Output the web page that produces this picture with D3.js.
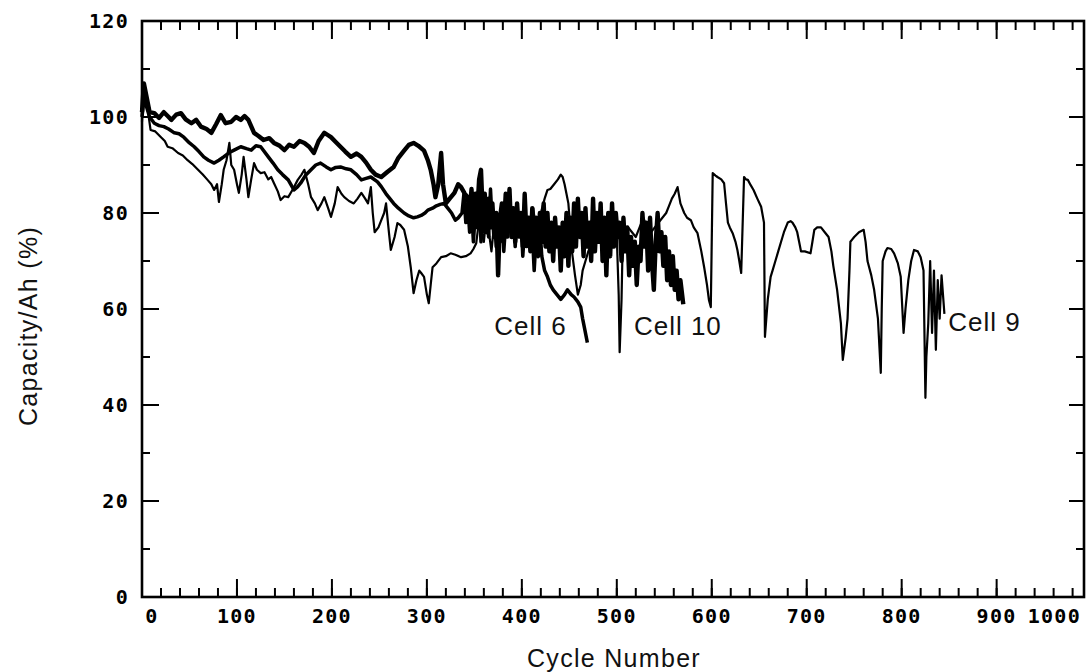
<!DOCTYPE html>
<html>
<head>
<meta charset="utf-8">
<script src="https://cdn.jsdelivr.net/npm/d3@7"></script>
<style>
  html, body { margin: 0; padding: 0; background: #fff; }
  svg { display: block; }
  .lbl { font-family: "DejaVu Sans Mono", monospace; font-weight: bold; font-size: 20px; fill: #000; letter-spacing: 1.3px; }
  .title { font-family: "Liberation Sans", Arial, sans-serif; font-size: 25px; fill: #111; letter-spacing: 1.3px; }
  .cell { font-family: "Liberation Sans", Arial, sans-serif; font-size: 26px; fill: #111; letter-spacing: 1px; }
</style>
</head>
<body>
<svg id="chart" width="1089" height="672"></svg>
<script>
// ---- data (cycle number, capacity %) ----
const cell10 = [[0,101],[2,107],[5,104],[8,101],[13,100.8],[18,99.8],[23,101],[27,100.2],[31,99.4],[36,100.5],[41,100.8],[46,99.5],[52,98.7],[57,99.4],[62,98],[68,97.5],[73,96.7],[78,98.5],[83,100.4],[88,98.7],[94,99],[99,100],[104,99.4],[108,100.2],[112,99.4],[118,96.7],[123,96],[128,95.2],[134,95.6],[139,94.6],[145,94],[150,93.1],[155,94.2],[160,93.8],[166,95],[171,94.6],[176,93.8],[181,92.5],[186,95],[192,96.7],[196,96.2],[199,95.8],[204,94.8],[209,93.8],[214,92.8],[220,91.7],[226,92.4],[231,91.7],[236,90.5],[241,89],[246,88],[252,87.5],[258,88.5],[265,89.6],[270,91.5],[276,93],[281,94.2],[286,94.6],[291,94],[297,93],[301,91],[304,89],[307,86],[309,83.3],[312,86],[315,92.5],[317,86],[320,82],[324,83],[329,84.2],[333,86],[336,85.4],[340,84],[343,83.3],[345,80],[347,85],[349,78],[351,84],[353,80],[355,87],[357,89],[359,79],[361,84],[363,76],[365,83],[367,77],[369,82],[371,75],[373,80],[375,67],[377,79],[379,82],[381,76],[383,84],[385,77],[387,85],[389,75],[391,81],[393,74],[395,82],[397,76],[399,80],[401,73],[403,84],[405,75],[407,79],[409,72],[411,81],[413,74],[415,79],[417,71],[419,80],[421,74],[423,82],[425,73],[427,80],[429,72],[431,78],[433,70],[435,79],[437,73],[439,77],[441,68],[443,78],[445,71],[447,80],[449,69],[451,79],[453,72],[455,82],[457,73],[459,83],[461,75],[463,80],[465,71],[467,81],[469,73],[471,78],[473,70],[475,83],[477,72],[479,80],[481,74],[483,82],[485,70],[487,79],[489,67],[491,80],[493,71],[495,82],[497,73],[499,80],[501,75],[503,78],[505,70],[507,79],[509,72],[511,77],[513,67],[515,75],[517,69],[519,74],[521,65],[523,73],[525,70],[527,80],[529,73],[531,78],[533,68],[535,79],[537,70],[539,64],[541,74],[543,80],[545,72],[547,76],[549,69],[551,75],[553,66],[555,72],[557,65],[559,71],[561,64],[563,68],[565,62],[567,66],[570,61]];

const cell6 = [[0,100],[2,104],[5,102],[8,100],[13,98.7],[18,98.2],[23,98],[28,97.5],[34,96.7],[39,96.5],[44,95.8],[50,94.6],[55,93.8],[60,92.8],[65,91.7],[70,91],[76,90.4],[81,91],[86,91.7],[92,92.6],[97,93.1],[104,93.8],[110,93.4],[115,93.1],[120,94],[125,93.8],[133,91.7],[138,90.4],[143,89],[148,88],[154,86.9],[160,84.8],[164,85.5],[167,86.2],[172,87.8],[178,89],[183,90],[188,90.4],[194,89.6],[199,89],[204,89.5],[209,89.6],[215,89.2],[220,89],[226,88],[231,86.9],[236,87.2],[241,87.5],[248,86.5],[252,85.5],[257,84],[261,83],[265,82],[270,81],[276,80],[281,79.4],[286,79],[290,79.2],[294,79.5],[298,80],[301,80.6],[306,81],[310,81.5],[314,81.8],[318,82],[322,81],[326,80],[330,78.5],[333,79],[337,80],[339,84],[341,78],[343,82],[345,76],[347,81],[349,74],[351,80],[353,77],[355,83],[357,74],[359,80],[361,76],[363,82],[365,75],[367,85],[369,77],[371,80],[373,73],[375,78],[377,74],[379,81],[381,72],[383,78],[385,75],[387,82],[389,76],[391,80],[393,73],[395,79],[397,75],[399,80],[401,71],[403,77],[405,73],[407,79],[409,74],[411,76],[413,68],[415,75],[417,72],[419,77],[421,71],[424,68],[427,66.7],[430,65],[433,64],[437,63],[441,62],[445,63],[448,64],[452,63],[455,62.5],[459,61.5],[462,60.4],[464,58],[466,56],[469,53]];

const cell9 = [[0,99],[2,107],[5,103],[9,97.3],[14,97],[20,95.8],[24,95],[27,93.8],[32,93.5],[38,92.5],[43,92],[48,91],[53,90.2],[59,89],[64,88],[69,86.9],[73,86],[76,84.8],[79,86],[81,82.3],[84,86],[86,89],[89,91],[92,94.6],[94,90],[97,89],[100,86],[102,84.2],[105,88],[107,91.7],[110,87],[112,83.3],[115,87],[118,90.4],[121,89],[125,88.3],[129,88.5],[133,87],[136,87.5],[139,86.2],[143,84.5],[146,82.7],[150,83.5],[154,83.3],[159,85],[164,86.9],[168,88],[171,89],[175,86],[178,83.3],[182,82],[185,80.6],[189,82],[192,83.3],[196,81],[199,79.2],[203,82],[206,85.4],[210,84],[213,83.3],[218,82.5],[223,82],[227,83],[231,84.2],[235,83],[238,82],[241,85.4],[243,80],[245,76],[249,77],[252,78.5],[255,80],[257,82],[260,76],[262,72.3],[266,75],[269,77.9],[272,77.5],[276,76.5],[280,73],[283,68.7],[286,63.3],[289,66],[292,68],[294,67.5],[297,66.7],[300,63],[302,61.2],[304,65],[306,68.7],[310,69.5],[315,70.8],[320,71],[325,71.6],[330,71.3],[336,70.8],[341,71],[346,71.6],[349,72.5],[352,73.7],[354,77],[356,80],[358,76],[360,74],[362,78],[364,79],[366,75],[368,72],[370,76],[372,78],[374,75],[376,74],[378,78],[380,80],[382,77],[384,76],[386,79],[388,82],[390,78],[392,75],[394,78],[396,79],[398,76],[400,74],[402,78],[404,80],[406,77],[408,77],[410,80],[412,81],[414,78],[416,76],[418,78],[420,80],[424,83],[427,84.8],[430,85],[434,86],[438,87],[441,88],[443,87.5],[445,86],[447,84],[449,82],[451,77],[453,71.6],[456,67],[459,63],[462,65],[464,68],[467,70],[470,72],[474,74],[478,76],[482,74],[486,73],[490,75],[494,77],[497,76],[500,75],[502,63],[503,51],[505,62],[506,72],[509,75],[512,77],[516,76],[520,75],[524,77],[528,79],[532,77],[536,76],[540,77],[544,78],[548,79],[552,80],[555,81.5],[558,83],[561,84],[564,85.4],[567,82],[571,80],[574,79],[578,78.5],[581,77],[585,75.8],[589,72],[592,68.7],[595,65],[597,61.9],[599,60.4],[601,88.3],[604,87.8],[606,87.5],[610,87],[613,86.2],[615,82],[617,78],[619,77],[622,75.8],[625,74],[627,72.3],[629,70],[631,67.5],[634,87.5],[636,87],[638,86.9],[641,85.8],[644,84.8],[648,83],[652,81.3],[655,78],[656,54.2],[659,62],[662,66.7],[664,68],[667,70],[670,72],[673,74],[676,76],[680,78],[683,78.3],[685,78],[688,77],[690,76],[692,74],[694,72],[698,72],[704,71.6],[706,74],[708,76.5],[711,77],[715,77],[719,76],[723,75],[726,72],[728,69],[732,64],[736,57],[738,49.4],[741,54],[743,58],[745,68],[746,74],[748,74.5],[750,75],[755,76],[760,76.5],[762,74],[764,70],[768,67],[771,64],[775,58],[778,46.7],[779,60],[780,70],[783,72],[785,72.7],[789,72.5],[792,71.6],[796,69.5],[799,66.7],[802,55],[804,60],[807,66],[810,70],[813,72.3],[817,72],[820,70.8],[823,68],[825,41.5],[826,50],[828,57],[830,70],[832,55],[834,68],[836,51.5],[838,66],[840,58],[842,67],[845,59]];

const xMajorTicks = [0,100,200,300,400,500,600,700,800,900];
const xMinorTicks = d3.range(0, 991, 20);
const yMajorTicks = [0,20,40,60,80,100,120];
const yMinorTicks = [10,30,50,70,90,110];
const xExtraLabel = "1000";
const xTitle = "Cycle Number";
const yTitle = "Capacity/Ah (%)";
const labels = [
  {text: "Cell 6", cycle: 371, value: 54.5},
  {text: "Cell 10", cycle: 518, value: 54.5},
  {text: "Cell 9", cycle: 849, value: 55.5}
];

// ---- layout ----
const L = 142, R = 1084, T = 21, B = 597;
const svg = d3.select("#chart");
const x = d3.scaleLinear().domain([0, 992]).range([L, R]);
const y = d3.scaleLinear().domain([0, 120]).range([B, T]);

// lines
const line = d3.line().x(d => x(d[0])).y(d => y(d[1]));
const series = [
  {data: cell9, w: 2.2},
  {data: cell6, w: 3.5},
  {data: cell10, w: 4.4}
];
svg.append("g").selectAll("path").data(series).join("path")
  .attr("d", d => line(d.data))
  .attr("fill", "none")
  .attr("stroke", "#000")
  .attr("stroke-width", d => d.w)
  .attr("stroke-linejoin", "round");

// ticks (drawn from the scales)
const tg = svg.append("g").attr("stroke", "#000").attr("stroke-width", 2);
function hTicks(vals, y0, dir, len) {
  tg.append("g").selectAll("line").data(vals).join("line")
    .attr("x1", d => x(d)).attr("x2", d => x(d))
    .attr("y1", y0).attr("y2", y0 + dir * len);
}
function vTicks(vals, x0, dir, len) {
  tg.append("g").selectAll("line").data(vals).join("line")
    .attr("y1", d => y(d)).attr("y2", d => y(d))
    .attr("x1", x0).attr("x2", x0 + dir * len);
}
hTicks(xMinorTicks, B, -1, 9);
hTicks(xMajorTicks, B, -1, 18);
hTicks(xMinorTicks, T, 1, 9);
hTicks(xMajorTicks, T, 1, 18);
vTicks(yMinorTicks, L, 1, 8);
vTicks(yMajorTicks, L, 1, 17);
vTicks(yMinorTicks, R, -1, 8);
vTicks(yMajorTicks, R, -1, 15);

// tick labels
svg.append("g").selectAll("text").data(xMajorTicks).join("text")
  .attr("class", "lbl")
  .attr("x", d => x(d) + (d === 0 ? 10 : 0)).attr("y", B + 26)
  .attr("text-anchor", "middle").text(d => d3.format("d")(d));
svg.append("text").attr("class", "lbl")
  .attr("x", x(992) - 3).attr("y", B + 26)
  .attr("text-anchor", "end").text(xExtraLabel);
svg.append("g").selectAll("text").data(yMajorTicks).join("text")
  .attr("class", "lbl")
  .attr("x", L - 13).attr("y", d => y(d) + 7)
  .attr("text-anchor", "end").text(d => d3.format("d")(d));

// frame
svg.append("rect").attr("x", L).attr("y", T).attr("width", R - L).attr("height", B - T)
  .attr("fill", "none").attr("stroke", "#000").attr("stroke-width", 2.6);

// titles
svg.append("text").attr("class", "title")
  .attr("x", (L + R) / 2 + 1).attr("y", 667).attr("text-anchor", "middle").text(xTitle);
svg.append("text").attr("class", "title")
  .attr("transform", `translate(37,326) rotate(-90)`).attr("text-anchor", "middle").text(yTitle);

// cell labels
svg.append("g").selectAll("text").data(labels).join("text")
  .attr("class", "cell")
  .attr("x", d => x(d.cycle)).attr("y", d => y(d.value))
  .text(d => d.text);
</script>
</body>
</html>
